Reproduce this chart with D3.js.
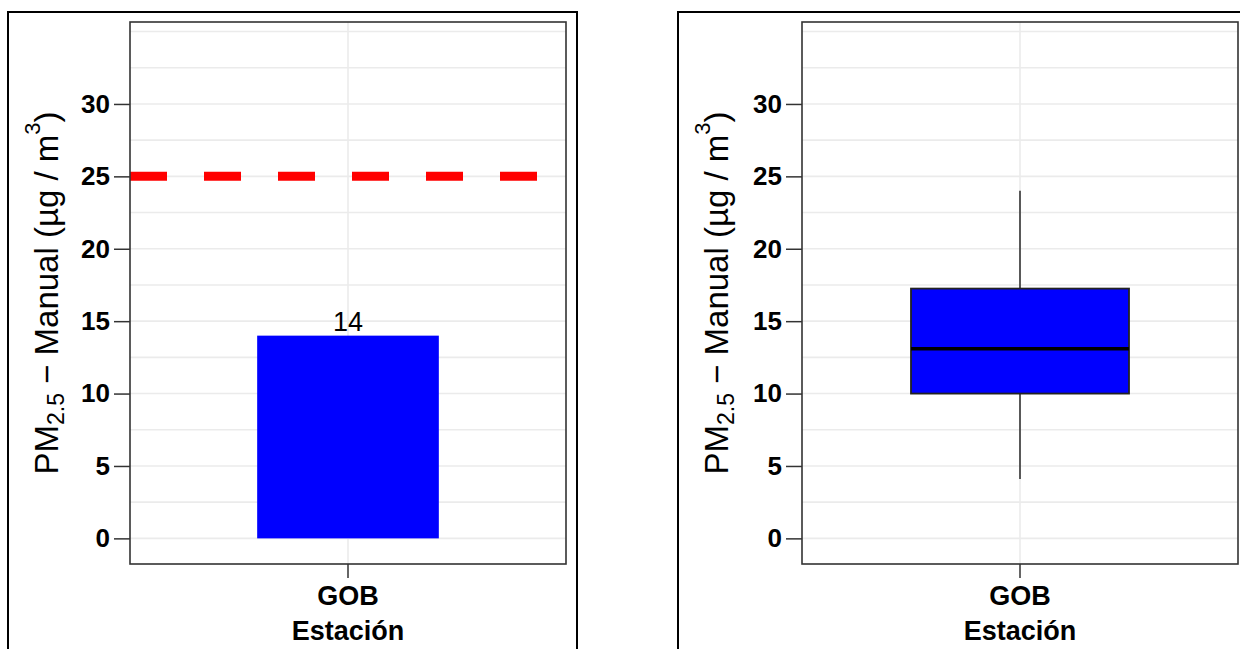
<!DOCTYPE html>
<html>
<head>
<meta charset="utf-8">
<script src="https://cdn.jsdelivr.net/npm/d3@7"></script>
<style>
  body { margin: 0; background: #fff; }
  text { font-family: "Liberation Sans", Arial, sans-serif; fill: #000; }
</style>
</head>
<body>
<svg id="chart"></svg>
<script>
const stations = ['GOB'];
const meanValues = [14];
const limitValue = 25;
const q1Values = [10.0];
const medianValues = [13.1];
const q3Values = [17.25];
const whiskerLow = [4.1];
const whiskerHigh = [24.0];
const yTicks = [0, 5, 10, 15, 20, 25, 30];
const gridValues = [0, 2.5, 5, 7.5, 10, 12.5, 15, 17.5, 20, 22.5, 25, 27.5, 30, 32.5, 35];
const yDomain = [-1.77, 35.66];
const xTitle = 'Estación';

const chartWidth = 1240;
const chartHeight = 649;
const plotTop = 22;
const plotBottom = 564;

const svg = d3.select('#chart')
    .attr('width', chartWidth)
    .attr('height', chartHeight);

const yScale = d3.scaleLinear()
    .domain(yDomain)
    .range([plotBottom, plotTop]);

// one panel = outer frame + grid + axes; returns the x band scale
function drawPanel(frameX, left, right, padOuter) {
    const g = svg.append('g');

    g.append('rect')
        .attr('x', frameX)
        .attr('y', 12)
        .attr('width', 569)
        .attr('height', 700)
        .attr('fill', 'none')
        .attr('stroke', '#000')
        .attr('stroke-width', 2);

    const xScale = d3.scaleBand()
        .domain(stations)
        .range([left, right])
        .paddingInner(0)
        .paddingOuter(padOuter);

    // grid
    g.selectAll('line.hgrid')
        .data(gridValues)
        .enter()
        .append('line')
        .attr('x1', left)
        .attr('x2', right)
        .attr('y1', d => yScale(d))
        .attr('y2', d => yScale(d))
        .attr('stroke', '#ebebeb')
        .attr('stroke-width', 1.6);

    g.selectAll('line.vgrid')
        .data(stations)
        .enter()
        .append('line')
        .attr('x1', d => xScale(d) + xScale.bandwidth() / 2)
        .attr('x2', d => xScale(d) + xScale.bandwidth() / 2)
        .attr('y1', plotTop)
        .attr('y2', plotBottom)
        .attr('stroke', '#ebebeb')
        .attr('stroke-width', 1.6);

    const yAxis = d3.axisLeft(yScale)
        .tickValues(yTicks)
        .tickSize(16)
        .tickPadding(4);

    const ya = g.append('g')
        .attr('transform', `translate(${left}, 0)`)
        .call(yAxis);
    ya.select('.domain').remove();
    ya.selectAll('line').attr('stroke', '#333').attr('stroke-width', 1.5);
    ya.selectAll('text')
        .attr('font-size', 26)
        .attr('font-weight', 'bold')
        .attr('fill', '#000');

    const xAxis = d3.axisBottom(xScale)
        .tickSize(14)
        .tickPadding(8);

    const xa = g.append('g')
        .attr('transform', `translate(0, ${plotBottom})`)
        .call(xAxis);
    xa.select('.domain').remove();
    xa.selectAll('line').attr('stroke', '#333').attr('stroke-width', 1.5);
    xa.selectAll('text')
        .attr('font-size', 27)
        .attr('font-weight', 'bold')
        .attr('fill', '#000');

    g.append('text')
        .attr('x', (left + right) / 2)
        .attr('y', 640)
        .attr('text-anchor', 'middle')
        .attr('font-size', 27)
        .attr('font-weight', 'bold')
        .text(xTitle);

    const yl = g.append('text')
        .attr('transform', `translate(${frameX + 50}, ${(plotTop + plotBottom) / 2}) rotate(-90)`)
        .attr('text-anchor', 'middle')
        .attr('font-size', 33);
    yl.append('tspan').text('PM');
    yl.append('tspan').attr('font-size', 23).attr('dy', 6).text('2.5');
    yl.append('tspan').attr('dy', -6).text(' \u2212 Manual (\u00b5g / m');
    yl.append('tspan').attr('font-size', 22).attr('dy', -18).text('3');
    yl.append('tspan').attr('dy', 18).text(')');

    return { g, xScale };
}

// left panel: mean bar with limit line
const p1 = drawPanel(8, 130, 566, 0.7);

p1.g.selectAll('rect.bar')
    .data(meanValues)
    .enter()
    .append('rect')
    .attr('x', (_, i) => p1.xScale(stations[i]))
    .attr('width', p1.xScale.bandwidth())
    .attr('y', d => yScale(d))
    .attr('height', d => yScale(0) - yScale(d))
    .attr('fill', '#0000ff');

p1.g.selectAll('text.barlabel')
    .data(meanValues)
    .enter()
    .append('text')
    .attr('x', (_, i) => p1.xScale(stations[i]) + p1.xScale.bandwidth() / 2)
    .attr('y', d => yScale(d) - 5)
    .attr('text-anchor', 'middle')
    .attr('font-size', 27)
    .attr('fill', '#222')
    .text(d => d);

p1.g.append('line')
    .attr('x1', 130)
    .attr('x2', 566)
    .attr('y1', yScale(limitValue))
    .attr('y2', yScale(limitValue))
    .attr('stroke', '#ff0000')
    .attr('stroke-width', 9)
    .attr('stroke-dasharray', '37,37');

// left plot box border
p1.g.append('rect')
    .attr('x', 130).attr('y', plotTop)
    .attr('width', 436).attr('height', plotBottom - plotTop)
    .attr('fill', 'none')
    .attr('stroke', '#333')
    .attr('stroke-width', 1.6);

// right panel: boxplot
const p2 = drawPanel(678, 802, 1238, 0.5);

const boxes = stations.map((s, i) => ({
    s, q1: q1Values[i], med: medianValues[i], q3: q3Values[i],
    lo: whiskerLow[i], hi: whiskerHigh[i]
}));

const bx = p2.g.selectAll('g.box')
    .data(boxes)
    .enter()
    .append('g');

bx.append('line')
    .attr('x1', d => p2.xScale(d.s) + p2.xScale.bandwidth() / 2)
    .attr('x2', d => p2.xScale(d.s) + p2.xScale.bandwidth() / 2)
    .attr('y1', d => yScale(d.hi))
    .attr('y2', d => yScale(d.q3))
    .attr('stroke', '#333')
    .attr('stroke-width', 1.6);

bx.append('line')
    .attr('x1', d => p2.xScale(d.s) + p2.xScale.bandwidth() / 2)
    .attr('x2', d => p2.xScale(d.s) + p2.xScale.bandwidth() / 2)
    .attr('y1', d => yScale(d.q1))
    .attr('y2', d => yScale(d.lo))
    .attr('stroke', '#333')
    .attr('stroke-width', 1.6);

bx.append('rect')
    .attr('x', d => p2.xScale(d.s))
    .attr('width', p2.xScale.bandwidth())
    .attr('y', d => yScale(d.q3))
    .attr('height', d => yScale(d.q1) - yScale(d.q3))
    .attr('fill', '#0000ff')
    .attr('stroke', '#222')
    .attr('stroke-width', 1.8);

bx.append('line')
    .attr('x1', d => p2.xScale(d.s))
    .attr('x2', d => p2.xScale(d.s) + p2.xScale.bandwidth())
    .attr('y1', d => yScale(d.med))
    .attr('y2', d => yScale(d.med))
    .attr('stroke', '#000')
    .attr('stroke-width', 3.5);

p2.g.append('rect')
    .attr('x', 802).attr('y', plotTop)
    .attr('width', 436).attr('height', plotBottom - plotTop)
    .attr('fill', 'none')
    .attr('stroke', '#333')
    .attr('stroke-width', 1.6);
</script>
</body>
</html>
